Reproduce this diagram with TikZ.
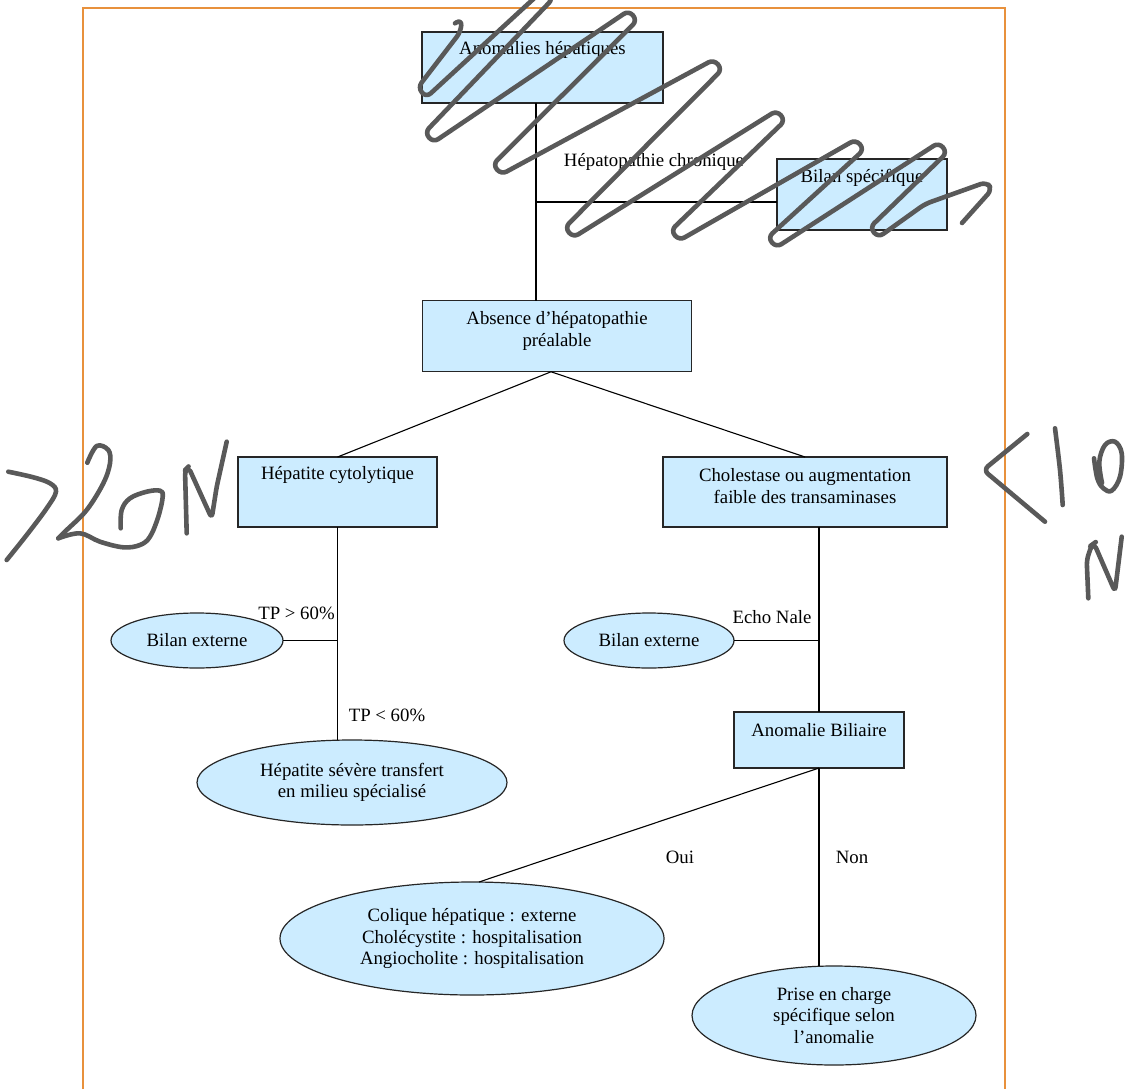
\documentclass[tikz,border=0pt]{standalone}
\usepackage{fontspec}
\setmainfont{Liberation Serif}
\usetikzlibrary{shapes.geometric,calc}
\definecolor{boxfill}{RGB}{204,236,255}
\definecolor{frameorange}{RGB}{232,145,60}
\definecolor{ink}{RGB}{89,89,89}
\begin{document}
\begin{tikzpicture}[x=1pt,y=-1pt,
  every node/.style={inner sep=0pt, outer sep=0pt, font=\fontsize{18.8}{21.7}\selectfont},
  rbox/.style={draw=black!85, fill=boxfill, line width=1.2pt, rectangle},
  ebox/.style={draw=black!85, fill=boxfill, line width=1.2pt, ellipse, align=center},
  txt/.style={align=center},
  conn/.style={draw=black, line width=1.1pt},
  frameline/.style={draw=frameorange, line width=1.4pt},
  scrib/.style={draw=ink, line width=4.6pt, line cap=round, line join=round}]
\useasboundingbox (0,0) rectangle (1134,1089);
\fill[white] (0,0) rectangle (1134,1089);

% frame
\draw[frameline] (83,1089) -- (83,8) -- (1005,8) -- (1005,1089);

% boxes
\node[rbox, minimum width=241pt, minimum height=71pt] (A) at (542.5,67.5) {};
\node[txt] (At) at (542.5,50) {Anomalies hépatiques};
\node[rbox, minimum width=170pt, minimum height=71pt] (Bs) at (862,194.5) {};
\node[txt] (Bst) at (862,178) {Bilan spécifique};
\node[rbox, minimum width=269pt, minimum height=71pt] (Abs) at (557,336.3) {};
\node[txt] (Abst) at (557,331) {Absence d’hépatopathie\\préalable};
\node[rbox, minimum width=199pt, minimum height=70pt] (HC) at (337.5,492) {};
\node[txt] (HCt) at (337.5,475) {Hépatite cytolytique};
\node[rbox, minimum width=284pt, minimum height=70pt] (Ch) at (805,492) {};
\node[txt] (Cht) at (805,486) {Cholestase ou augmentation\\faible des transaminases};
\node[rbox, minimum width=170pt, minimum height=56pt] (AB) at (819,740) {};
\node[txt] (ABt) at (819,730) {Anomalie Biliaire};

% ellipses
\node[ebox, minimum width=172pt, minimum height=55pt] (BEL) at (197,640.5) {Bilan externe};
\node[ebox, minimum width=170pt, minimum height=55pt] (BER) at (649,640.5) {Bilan externe};
\node[ebox, minimum width=310pt, minimum height=85pt] (HS) at (352,782.5) {Hépatite sévère transfert\\en milieu spécialisé};
\node[ebox, minimum width=384pt, minimum height=113pt] (Co) at (472,938.5) {Colique hépatique : externe\\Cholécystite : hospitalisation\\Angiocholite : hospitalisation};
\node[ebox, minimum width=284pt, minimum height=99pt] (Pr) at (834,1015.5) {Prise en charge\\spécifique selon\\l’anomalie};

% connectors
\coordinate (j1) at (536,202);
\draw[conn] (j1 |- A.south) -- (j1 |- Abs.north);
\draw[conn] (j1) -- (j1 -| Bs.west);
\coordinate (apex) at ($(Abs.south)+(-6,0)$);
\draw[conn] (apex) -- (HC.north);
\draw[conn] (apex) -- (Ch.north);
\draw[conn] (HC.south) -- (HC.south |- HS.north);
\draw[conn] (BEL.east) -- (BEL.east -| HC.south);
\coordinate (j2) at (819,527);
\draw[conn] (j2 |- Ch.south) -- (AB.north);
\draw[conn] (BER.east) -- (BER.east -| AB.north);
\draw[conn] (AB.south) -- (AB.south |- Pr.north);
\draw[conn] (AB.south) -- ($(Co.north)+(7,0)$);

% labels
\node (lHC) at (654,162) {Hépatopathie chronique};
\node (lTP1) at (296.5,613) {TP > 60\%};
\node (lTP2) at (387,715) {TP < 60\%};
\node (lEcho) at (772,617) {Echo Nale};
\node (lOui) at (680,857) {Oui};
\node (lNon) at (852,857) {Non};

% scribble
\draw[scrib, rounded corners=6pt] (455,23.3) -- (461.7,19.3) -- (460.7,31.7)
  -- (417.8,87.5) -- (426.2,97.5)
  -- (544.8,-11.5) -- (553.2,-1.5)
  -- (424.8,132.5) -- (433.2,142.5)
  -- (628.8,10.5) -- (637.2,20.5)
  -- (492.8,164.5) -- (501.2,174.5)
  -- (713.8,59.5) -- (722.2,69.5)
  -- (564.8,227.5) -- (573.2,237.5)
  -- (776.8,110.5) -- (785.2,120.5)
  -- (670.8,230.5) -- (679.2,240.5)
  -- (855.8,139.5) -- (864.2,149.5)
  -- (767.8,237.5) -- (776.2,247.5)
  -- (938.8,142.5) -- (947.2,152.5)
  -- (869.8,227.5) -- (878.2,237.5)
  -- (925,204) -- (986.5,182) -- (992,189.5)
  -- (962,223);

% handwriting left
\draw[scrib] plot[smooth, tension=0.6] coordinates {(8.3,471.7) (33.3,477.3) (50,483.3) (56,491.7) (46.7,508.3) (26.7,535) (6.7,560)};
\draw[scrib] plot[smooth, tension=0.6] coordinates {(87.3,462.7) (96.7,446) (108.3,450) (110,463.3) (103.3,483.3) (86.7,510) (66.7,530) (58.3,538.3)};
\draw[scrib] plot[smooth, tension=0.6] coordinates {(58.3,538.3) (80,533.3) (100,541.7) (123.3,547.3) (140,545) (150,536.7) (158.3,516.7) (162.7,496.7) (160,490.7) (146.7,491.7) (130,498.3) (121.7,510) (120.7,528.3)};
\draw[scrib, rounded corners=5pt] (186.7,533.3) -- (185,470) -- (188.3,466.7) -- (211.7,518.3) -- (216.7,486.7) -- (226.7,441.7);

% handwriting right
\draw[scrib, rounded corners=6pt] (1027.3,434) -- (983.3,470) -- (1045,521.7);
\draw[scrib] plot[smooth, tension=0.6] coordinates {(1055,428.3) (1060,470) (1062.7,505)};
\draw[scrib] plot[smooth, tension=0.6] coordinates {(1094,458.3) (1097.3,478.3) (1103.3,488.3) (1111.7,490.7) (1120,476.7) (1121.7,453.3) (1115,441.7) (1105,445) (1099.3,461.7) (1102,483)};
\draw[scrib, rounded corners=5pt] (1088.3,598.3) -- (1086.7,560) -- (1091.7,545) -- (1094,543.3) -- (1115,591.7) -- (1121.7,536.7);
\end{tikzpicture}
\end{document}
